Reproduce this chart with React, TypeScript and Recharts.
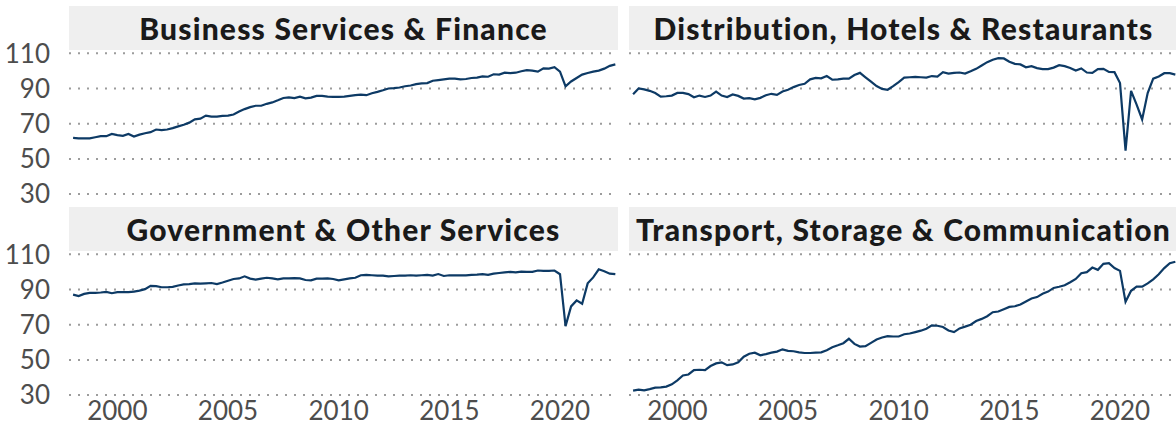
import React from 'react';
import { LineChart, Line, XAxis, YAxis, CartesianGrid } from 'recharts';

// quarterly index, 1998 Q1 .. 2022 Q3
const START_YEAR = 1998;
const N_QUARTERS = 99;
const QUARTERS = Array.from({ length: N_QUARTERS }, (_, i) => START_YEAR + i * 0.25);

const X_TICKS = [2000, 2005, 2010, 2015, 2020];
const Y_TICKS = [30, 50, 70, 90, 110];

const businessFinance = [
  61.9, 61.7, 61.7, 61.7, 62.3, 62.9, 62.9, 64.2, 63.5, 63.1,
  64.2, 62.7, 63.8, 64.6, 65.2, 66.7, 66.3, 66.7, 67.5, 68.5,
  69.4, 70.6, 72.5, 72.9, 74.6, 74.0, 74.0, 74.4, 74.6, 75.2,
  76.9, 78.3, 79.4, 80.2, 80.2, 81.3, 82.1, 83.3, 84.6, 85.0,
  84.6, 85.4, 84.4, 84.8, 85.8, 85.8, 85.4, 85.2, 85.2, 85.4,
  85.8, 86.2, 86.5, 86.2, 87.3, 88.1, 89.0, 90.0, 90.2, 90.6,
  91.3, 91.7, 92.5, 92.9, 93.1, 94.4, 94.8, 95.2, 95.6, 95.6,
  95.2, 95.4, 96.0, 96.2, 96.9, 96.7, 98.1, 97.9, 99.0, 98.8,
  99.0, 99.8, 100.4, 100.2, 99.6, 101.5, 101.3, 102.1, 99.6, 91.2,
  94.0, 96.0, 97.9, 98.8, 99.6, 100.2, 101.3, 102.9, 103.7,
];

const distribution = [
  86.8, 90.0, 89.5, 88.7, 87.4, 85.4, 85.6, 86.0, 87.5, 87.5,
  86.8, 85.0, 86.0, 85.2, 86.0, 88.3, 86.0, 85.2, 86.6, 85.8,
  84.3, 84.5, 83.9, 84.7, 86.2, 87.0, 86.4, 88.3, 89.3, 90.8,
  92.0, 92.7, 95.2, 96.0, 95.8, 97.1, 95.0, 95.2, 95.6, 95.6,
  97.7, 98.9, 96.4, 93.9, 91.4, 89.8, 89.3, 91.4, 93.7, 96.2,
  96.4, 96.6, 96.4, 96.2, 97.1, 96.8, 99.3, 98.5, 98.9, 99.1,
  98.5, 99.8, 101.2, 103.1, 105.0, 106.4, 107.3, 107.1, 105.2, 104.0,
  103.7, 102.1, 102.7, 101.6, 101.0, 101.0, 101.9, 103.3, 102.7, 101.7,
  100.2, 101.4, 99.1, 98.9, 101.0, 101.2, 99.4, 99.3, 93.1, 54.7,
  88.7, 80.9, 72.4, 87.4, 95.6, 96.8, 98.7, 98.7, 97.9,
];

const government = [
  87.1, 86.3, 87.5, 88.1, 88.1, 88.3, 88.7, 87.9, 88.5, 88.5,
  88.5, 88.8, 89.4, 90.2, 92.1, 91.9, 91.3, 91.3, 91.5, 92.3,
  92.9, 93.1, 93.5, 93.3, 93.5, 93.7, 93.1, 94.0, 95.0, 96.0,
  96.3, 97.5, 96.2, 95.6, 96.2, 96.7, 96.3, 95.8, 96.3, 96.3,
  96.5, 96.3, 95.4, 95.2, 96.2, 96.2, 96.3, 96.0, 95.2, 95.8,
  96.3, 96.7, 98.1, 98.3, 98.1, 97.9, 97.9, 97.5, 97.7, 97.9,
  97.9, 98.1, 97.9, 98.1, 98.3, 97.9, 98.8, 97.7, 98.1, 98.1,
  98.1, 98.1, 98.3, 98.5, 98.8, 98.3, 99.0, 99.4, 99.8, 100.0,
  99.8, 100.2, 100.0, 100.0, 100.8, 100.6, 100.6, 100.8, 98.7, 69.2,
  80.4, 83.8, 81.9, 93.5, 96.9, 101.5, 100.4, 99.0, 98.7,
];

const transport = [
  32.5, 33.1, 32.7, 33.4, 34.2, 34.4, 34.8, 36.1, 38.4, 41.1,
  41.7, 44.2, 44.4, 44.2, 46.5, 48.0, 48.6, 47.0, 47.4, 48.6,
  51.8, 53.5, 54.1, 52.6, 53.3, 54.1, 54.7, 56.0, 55.1, 54.9,
  54.3, 53.9, 53.9, 54.1, 54.3, 55.5, 57.2, 58.3, 59.5, 62.0,
  59.1, 57.6, 57.8, 59.7, 61.6, 62.7, 63.5, 63.3, 63.3, 64.6,
  65.0, 65.8, 66.6, 67.7, 69.6, 69.4, 68.7, 66.7, 65.8, 67.9,
  68.9, 70.0, 72.1, 73.3, 74.8, 77.1, 77.5, 78.8, 80.1, 80.5,
  81.5, 83.2, 84.9, 85.7, 87.6, 88.8, 90.9, 91.6, 92.4, 94.1,
  96.0, 99.3, 99.9, 102.5, 101.2, 104.6, 105.0, 102.2, 100.6, 83.0,
  89.3, 91.6, 91.6, 93.5, 95.8, 98.7, 102.2, 105.0, 105.8,
];

const X_DOMAIN: [number, number] = [1997.815, 2022.62];
const Y_DOMAIN: [number, number] = [28.9, 111.9];

const LINE_COLOR = '#0d3a65';
const AXIS_TEXT = '#4d4d4d';
const FONT = 'Lato, "Noto Sans", sans-serif';

const PANEL_W = 549;
const AXIS_W = 69;
const PLOT_H = 146;
const STRIP_H = 44;
const XAXIS_H = 36;
const PAD = 14; // room above/below the plot so edge tick labels are not clipped

interface PanelProps {
  title: string;
  values: number[];
  left: number;
  top: number;
  showY: boolean;
  showX: boolean;
}

const Panel: React.FC<PanelProps> = ({ title, values, left, top, showY, showX }) => {
  const rows = QUARTERS.map((t, i) => ({ t, v: values[i] }));
  const chartLeft = showY ? left - AXIS_W : left;
  const chartW = showY ? PANEL_W + AXIS_W : PANEL_W;
  const bottomPad = showX ? 0 : PAD;
  const chartH = PAD + PLOT_H + (showX ? XAXIS_H : 0) + bottomPad;

  return (
    <>
      <div
        style={{
          position: 'absolute',
          left,
          top,
          width: PANEL_W,
          height: STRIP_H,
          background: '#efefef',
          display: 'flex',
          alignItems: 'center',
          justifyContent: 'center',
          whiteSpace: 'nowrap',
          overflow: 'visible',
          fontFamily: FONT,
          fontWeight: 900,
          fontSize: 30,
          letterSpacing: 1.2,
          color: '#1a1a1a',
        }}
      >
        {title}
      </div>
      <div style={{ position: 'absolute', left: chartLeft, top: top + STRIP_H - PAD }}>
        <LineChart
          width={chartW}
          height={chartH}
          data={rows}
          margin={{ top: PAD, right: 0, bottom: bottomPad, left: 0 }}
        >
          <CartesianGrid
            vertical={false}
            syncWithTicks
            stroke="#9c9c9c"
            strokeWidth={2}
            strokeDasharray="2 7"
          />
          <XAxis
            type="number"
            dataKey="t"
            domain={X_DOMAIN}
            ticks={X_TICKS}
            interval={0}
            allowDataOverflow
            hide={!showX}
            height={XAXIS_H}
            axisLine={false}
            tickLine={false}
            tickSize={0}
            tickMargin={5}
            tick={{ fontSize: 26, fill: AXIS_TEXT, fontFamily: FONT }}
          />
          <YAxis
            type="number"
            domain={Y_DOMAIN}
            ticks={Y_TICKS}
            interval={0}
            allowDataOverflow
            hide={!showY}
            width={AXIS_W}
            axisLine={false}
            tickLine={false}
            tickSize={0}
            tickMargin={19}
            tick={{ fontSize: 26, fill: AXIS_TEXT, fontFamily: FONT }}
          />
          <Line
            type="linear"
            dataKey="v"
            stroke={LINE_COLOR}
            strokeWidth={2.2}
            dot={false}
            isAnimationActive={false}
          />
        </LineChart>
      </div>
    </>
  );
};

export default function App() {
  return (
    <div
      style={{
        position: 'absolute',
        left: 0,
        top: 0,
        width: 1176,
        height: 432,
        overflow: 'hidden',
        background: '#ffffff',
      }}
    >
      <Panel title="Business Services & Finance" values={businessFinance} left={69} top={6} showY showX={false} />
      <Panel title="Distribution, Hotels & Restaurants" values={distribution} left={629} top={6} showY={false} showX={false} />
      <Panel title="Government & Other Services" values={government} left={69} top={207} showY showX />
      <Panel title="Transport, Storage & Communication" values={transport} left={629} top={207} showY={false} showX />
    </div>
  );
}
